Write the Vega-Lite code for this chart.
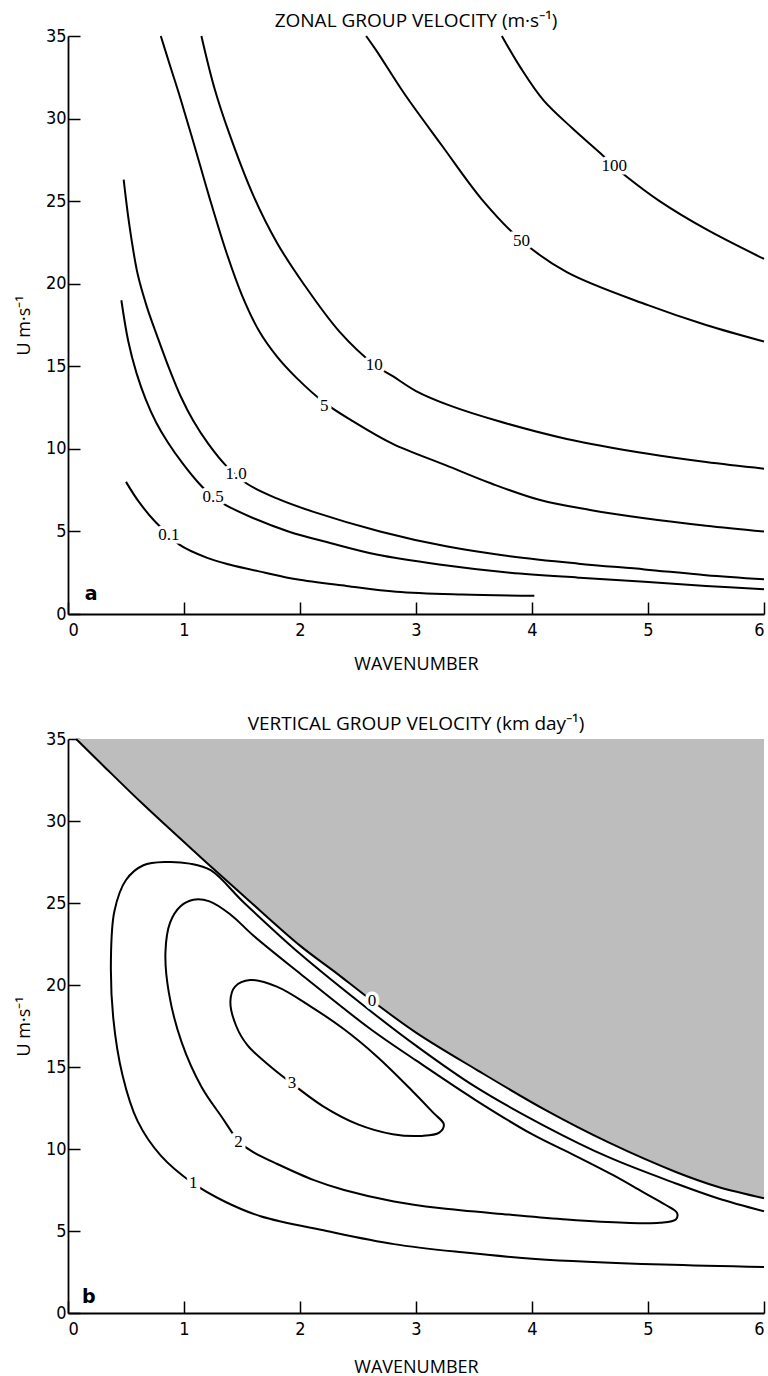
{
  "$schema": "https://vega.github.io/schema/vega-lite/v6.json",
  "background": "white",
  "padding": {"left": 15, "top": 12, "right": 0, "bottom": 0},
  "spacing": 42,
  "config": {
    "view": {"stroke": null},
    "axis": {
      "grid": false,
      "domainColor": "black",
      "domainWidth": 1.8,
      "tickColor": "black",
      "tickWidth": 1.5,
      "tickSize": -12,
      "labelFont": "Liberation Sans Narrow, DejaVu Sans Condensed, sans-serif",
      "labelFontSize": 18,
      "labelColor": "black",
      "titleFont": "Open Sans",
      "titleFontSize": 18,
      "titleFontWeight": "normal",
      "titleColor": "black"
    },
    "title": {"font": "Open Sans", "fontSize": 19, "fontWeight": "normal", "color": "black", "anchor": "middle", "offset": -4}
  },
  "datasets": {
    "zonal": [
      {"c": "0.1", "i": 1, "k": 0.5, "u": 8.0}, {"c": "0.1", "i": 2, "k": 0.61, "u": 6.8}, {"c": "0.1", "i": 3, "k": 0.75, "u": 5.6}, {"c": "0.1", "i": 4, "k": 0.87, "u": 4.8}, {"c": "0.1", "i": 5, "k": 0.96, "u": 4.2}, {"c": "0.1", "i": 6, "k": 1.2, "u": 3.4}, {"c": "0.1", "i": 7, "k": 1.39, "u": 3.0}, {"c": "0.1", "i": 8, "k": 1.7, "u": 2.5}, {"c": "0.1", "i": 9, "k": 1.97, "u": 2.1}, {"c": "0.1", "i": 10, "k": 2.4, "u": 1.7}, {"c": "0.1", "i": 11, "k": 2.83, "u": 1.35}, {"c": "0.1", "i": 12, "k": 3.4, "u": 1.18}, {"c": "0.1", "i": 13, "k": 4.02, "u": 1.1},
      {"c": "0.5", "i": 1, "k": 0.46, "u": 19.0}, {"c": "0.5", "i": 2, "k": 0.52, "u": 16.5}, {"c": "0.5", "i": 3, "k": 0.59, "u": 14.6}, {"c": "0.5", "i": 4, "k": 0.67, "u": 13.0}, {"c": "0.5", "i": 5, "k": 0.76, "u": 11.6}, {"c": "0.5", "i": 6, "k": 0.86, "u": 10.4}, {"c": "0.5", "i": 7, "k": 0.99, "u": 9.1}, {"c": "0.5", "i": 8, "k": 1.13, "u": 7.9}, {"c": "0.5", "i": 9, "k": 1.25, "u": 7.1}, {"c": "0.5", "i": 10, "k": 1.36, "u": 6.6}, {"c": "0.5", "i": 11, "k": 1.6, "u": 5.8}, {"c": "0.5", "i": 12, "k": 1.9, "u": 5.0}, {"c": "0.5", "i": 13, "k": 2.26, "u": 4.3}, {"c": "0.5", "i": 14, "k": 2.66, "u": 3.6}, {"c": "0.5", "i": 15, "k": 3.2, "u": 3.0}, {"c": "0.5", "i": 16, "k": 3.81, "u": 2.5}, {"c": "0.5", "i": 17, "k": 4.4, "u": 2.2}, {"c": "0.5", "i": 18, "k": 4.97, "u": 1.95}, {"c": "0.5", "i": 19, "k": 5.5, "u": 1.7}, {"c": "0.5", "i": 20, "k": 6.0, "u": 1.5},
      {"c": "1.0", "i": 1, "k": 0.48, "u": 26.3}, {"c": "1.0", "i": 2, "k": 0.53, "u": 23.5}, {"c": "1.0", "i": 3, "k": 0.6, "u": 20.6}, {"c": "1.0", "i": 4, "k": 0.68, "u": 18.6}, {"c": "1.0", "i": 5, "k": 0.77, "u": 16.8}, {"c": "1.0", "i": 6, "k": 0.87, "u": 14.9}, {"c": "1.0", "i": 7, "k": 0.97, "u": 13.2}, {"c": "1.0", "i": 8, "k": 1.08, "u": 11.7}, {"c": "1.0", "i": 9, "k": 1.21, "u": 10.3}, {"c": "1.0", "i": 10, "k": 1.36, "u": 9.0}, {"c": "1.0", "i": 11, "k": 1.54, "u": 7.9}, {"c": "1.0", "i": 12, "k": 1.8, "u": 7.0}, {"c": "1.0", "i": 13, "k": 2.11, "u": 6.2}, {"c": "1.0", "i": 14, "k": 2.69, "u": 5.0}, {"c": "1.0", "i": 15, "k": 3.26, "u": 4.1}, {"c": "1.0", "i": 16, "k": 3.81, "u": 3.5}, {"c": "1.0", "i": 17, "k": 4.4, "u": 3.05}, {"c": "1.0", "i": 18, "k": 4.97, "u": 2.7}, {"c": "1.0", "i": 19, "k": 5.5, "u": 2.35}, {"c": "1.0", "i": 20, "k": 6.0, "u": 2.1},
      {"c": "5", "i": 1, "k": 0.8, "u": 35}, {"c": "5", "i": 2, "k": 0.88, "u": 33.2}, {"c": "5", "i": 3, "k": 0.97, "u": 31.2}, {"c": "5", "i": 4, "k": 1.08, "u": 28.6}, {"c": "5", "i": 5, "k": 1.22, "u": 25.2}, {"c": "5", "i": 6, "k": 1.37, "u": 21.8}, {"c": "5", "i": 7, "k": 1.5, "u": 19.3}, {"c": "5", "i": 8, "k": 1.65, "u": 17.1}, {"c": "5", "i": 9, "k": 1.8, "u": 15.6}, {"c": "5", "i": 10, "k": 1.97, "u": 14.3}, {"c": "5", "i": 11, "k": 2.21, "u": 12.8}, {"c": "5", "i": 12, "k": 2.45, "u": 11.7}, {"c": "5", "i": 13, "k": 2.8, "u": 10.3}, {"c": "5", "i": 14, "k": 3.26, "u": 9.0}, {"c": "5", "i": 15, "k": 3.65, "u": 7.9}, {"c": "5", "i": 16, "k": 4.07, "u": 6.9}, {"c": "5", "i": 17, "k": 4.5, "u": 6.3}, {"c": "5", "i": 18, "k": 4.97, "u": 5.8}, {"c": "5", "i": 19, "k": 5.5, "u": 5.35}, {"c": "5", "i": 20, "k": 6.0, "u": 5.0},
      {"c": "10", "i": 1, "k": 1.15, "u": 35}, {"c": "10", "i": 2, "k": 1.26, "u": 31.9}, {"c": "10", "i": 3, "k": 1.39, "u": 29.1}, {"c": "10", "i": 4, "k": 1.6, "u": 25.3}, {"c": "10", "i": 5, "k": 1.8, "u": 22.5}, {"c": "10", "i": 6, "k": 2.03, "u": 20.0}, {"c": "10", "i": 7, "k": 2.34, "u": 17.1}, {"c": "10", "i": 8, "k": 2.64, "u": 15.1}, {"c": "10", "i": 9, "k": 2.8, "u": 14.4}, {"c": "10", "i": 10, "k": 3.0, "u": 13.5}, {"c": "10", "i": 11, "k": 3.3, "u": 12.6}, {"c": "10", "i": 12, "k": 3.7, "u": 11.7}, {"c": "10", "i": 13, "k": 4.3, "u": 10.6}, {"c": "10", "i": 14, "k": 5.0, "u": 9.7}, {"c": "10", "i": 15, "k": 5.5, "u": 9.2}, {"c": "10", "i": 16, "k": 6.0, "u": 8.8},
      {"c": "50", "i": 1, "k": 2.57, "u": 35}, {"c": "50", "i": 2, "k": 2.66, "u": 34.1}, {"c": "50", "i": 3, "k": 2.9, "u": 31.5}, {"c": "50", "i": 4, "k": 3.22, "u": 28.4}, {"c": "50", "i": 5, "k": 3.58, "u": 25.0}, {"c": "50", "i": 6, "k": 3.91, "u": 22.6}, {"c": "50", "i": 7, "k": 4.3, "u": 20.7}, {"c": "50", "i": 8, "k": 5.0, "u": 18.7}, {"c": "50", "i": 9, "k": 5.5, "u": 17.5}, {"c": "50", "i": 10, "k": 6.0, "u": 16.5},
      {"c": "100", "i": 1, "k": 3.74, "u": 35}, {"c": "100", "i": 2, "k": 3.9, "u": 33.1}, {"c": "100", "i": 3, "k": 4.1, "u": 31.1}, {"c": "100", "i": 4, "k": 4.35, "u": 29.4}, {"c": "100", "i": 5, "k": 4.59, "u": 27.9}, {"c": "100", "i": 6, "k": 4.71, "u": 27.1}, {"c": "100", "i": 7, "k": 4.83, "u": 26.4}, {"c": "100", "i": 8, "k": 5.1, "u": 25.0}, {"c": "100", "i": 9, "k": 5.5, "u": 23.3}, {"c": "100", "i": 10, "k": 6.0, "u": 21.5}
    ],
    "zonalLabels": [
      {"k": 0.87, "u": 4.8, "t": "0.1"}, {"k": 1.25, "u": 7.1, "t": "0.5"}, {"k": 1.45, "u": 8.5, "t": "1.0"}, {"k": 2.21, "u": 12.6, "t": "5"}, {"k": 2.64, "u": 15.1, "t": "10"}, {"k": 3.91, "u": 22.6, "t": "50"}, {"k": 4.71, "u": 27.1, "t": "100"}
    ],
    "panelA": [{"k": 0.2, "u": 1.2, "t": "a"}],
    "panelB": [{"k": 0.18, "u": 1.0, "t": "b"}],
    "shade": [
      {"k": 0.07, "u": 35}, {"k": 0.3, "u": 33.4}, {"k": 0.65, "u": 31.0}, {"k": 1.08, "u": 28.2}, {"k": 1.52, "u": 25.4}, {"k": 2.0, "u": 22.4}, {"k": 2.3, "u": 20.8}, {"k": 2.61, "u": 19.1}, {"k": 3.0, "u": 17.1}, {"k": 3.53, "u": 14.8}, {"k": 4.11, "u": 12.4}, {"k": 4.66, "u": 10.4}, {"k": 5.24, "u": 8.6}, {"k": 5.6, "u": 7.7}, {"k": 6.0, "u": 7.0}
    ],
    "vertical": [
      {"c": "0", "i": 1, "k": 0.07, "u": 35}, {"c": "0", "i": 2, "k": 0.3, "u": 33.4}, {"c": "0", "i": 3, "k": 0.65, "u": 31.0}, {"c": "0", "i": 4, "k": 1.08, "u": 28.2}, {"c": "0", "i": 5, "k": 1.52, "u": 25.4}, {"c": "0", "i": 6, "k": 2.0, "u": 22.4}, {"c": "0", "i": 7, "k": 2.3, "u": 20.8}, {"c": "0", "i": 8, "k": 2.61, "u": 19.1}, {"c": "0", "i": 9, "k": 3.0, "u": 17.1}, {"c": "0", "i": 10, "k": 3.53, "u": 14.8}, {"c": "0", "i": 11, "k": 4.11, "u": 12.4}, {"c": "0", "i": 12, "k": 4.66, "u": 10.4}, {"c": "0", "i": 13, "k": 5.24, "u": 8.6}, {"c": "0", "i": 14, "k": 5.6, "u": 7.7}, {"c": "0", "i": 15, "k": 6.0, "u": 7.0},
      {"c": "1", "i": 1, "k": 6.0, "u": 2.8}, {"c": "1", "i": 2, "k": 5.13, "u": 2.95}, {"c": "1", "i": 3, "k": 4.03, "u": 3.3}, {"c": "1", "i": 4, "k": 3.4, "u": 3.7}, {"c": "1", "i": 5, "k": 2.81, "u": 4.2}, {"c": "1", "i": 6, "k": 2.23, "u": 5.0}, {"c": "1", "i": 7, "k": 1.66, "u": 5.9}, {"c": "1", "i": 8, "k": 1.35, "u": 6.8}, {"c": "1", "i": 9, "k": 1.08, "u": 7.9}, {"c": "1", "i": 10, "k": 0.8, "u": 9.6}, {"c": "1", "i": 11, "k": 0.6, "u": 11.7}, {"c": "1", "i": 12, "k": 0.47, "u": 14.5}, {"c": "1", "i": 13, "k": 0.39, "u": 18.0}, {"c": "1", "i": 14, "k": 0.37, "u": 21.5}, {"c": "1", "i": 15, "k": 0.4, "u": 24.5}, {"c": "1", "i": 16, "k": 0.5, "u": 26.4}, {"c": "1", "i": 17, "k": 0.65, "u": 27.3}, {"c": "1", "i": 18, "k": 0.85, "u": 27.5}, {"c": "1", "i": 19, "k": 1.05, "u": 27.4}, {"c": "1", "i": 20, "k": 1.23, "u": 27.0}, {"c": "1", "i": 21, "k": 1.52, "u": 25.0}, {"c": "1", "i": 22, "k": 2.0, "u": 21.9}, {"c": "1", "i": 23, "k": 2.61, "u": 18.4}, {"c": "1", "i": 24, "k": 3.0, "u": 16.3}, {"c": "1", "i": 25, "k": 3.51, "u": 13.8}, {"c": "1", "i": 26, "k": 4.11, "u": 11.4}, {"c": "1", "i": 27, "k": 4.66, "u": 9.5}, {"c": "1", "i": 28, "k": 5.24, "u": 7.9}, {"c": "1", "i": 29, "k": 5.6, "u": 7.0}, {"c": "1", "i": 30, "k": 6.0, "u": 6.2},
      {"c": "2", "i": 1, "k": 1.47, "u": 10.4}, {"c": "2", "i": 2, "k": 1.34, "u": 11.8}, {"c": "2", "i": 3, "k": 1.15, "u": 13.8}, {"c": "2", "i": 4, "k": 0.98, "u": 16.5}, {"c": "2", "i": 5, "k": 0.87, "u": 19.5}, {"c": "2", "i": 6, "k": 0.84, "u": 22.0}, {"c": "2", "i": 7, "k": 0.88, "u": 23.8}, {"c": "2", "i": 8, "k": 0.97, "u": 24.8}, {"c": "2", "i": 9, "k": 1.08, "u": 25.2}, {"c": "2", "i": 10, "k": 1.22, "u": 25.1}, {"c": "2", "i": 11, "k": 1.4, "u": 24.3}, {"c": "2", "i": 12, "k": 1.6, "u": 23.0}, {"c": "2", "i": 13, "k": 2.0, "u": 20.7}, {"c": "2", "i": 14, "k": 2.61, "u": 17.3}, {"c": "2", "i": 15, "k": 3.0, "u": 15.4}, {"c": "2", "i": 16, "k": 3.51, "u": 13.0}, {"c": "2", "i": 17, "k": 4.0, "u": 10.9}, {"c": "2", "i": 18, "k": 4.37, "u": 9.6}, {"c": "2", "i": 19, "k": 4.7, "u": 8.4}, {"c": "2", "i": 20, "k": 4.95, "u": 7.4}, {"c": "2", "i": 21, "k": 5.15, "u": 6.6}, {"c": "2", "i": 22, "k": 5.25, "u": 6.1}, {"c": "2", "i": 23, "k": 5.24, "u": 5.7}, {"c": "2", "i": 24, "k": 5.1, "u": 5.5}, {"c": "2", "i": 25, "k": 4.8, "u": 5.5}, {"c": "2", "i": 26, "k": 4.3, "u": 5.7}, {"c": "2", "i": 27, "k": 3.8, "u": 6.0}, {"c": "2", "i": 28, "k": 3.2, "u": 6.4}, {"c": "2", "i": 29, "k": 2.81, "u": 6.8}, {"c": "2", "i": 30, "k": 2.38, "u": 7.5}, {"c": "2", "i": 31, "k": 2.12, "u": 8.1}, {"c": "2", "i": 32, "k": 1.8, "u": 9.1}, {"c": "2", "i": 33, "k": 1.6, "u": 9.8}, {"c": "2", "i": 34, "k": 1.47, "u": 10.4},
      {"c": "3", "i": 1, "k": 1.93, "u": 14.0}, {"c": "3", "i": 2, "k": 2.2, "u": 12.6}, {"c": "3", "i": 3, "k": 2.5, "u": 11.5}, {"c": "3", "i": 4, "k": 2.8, "u": 10.9}, {"c": "3", "i": 5, "k": 3.05, "u": 10.8}, {"c": "3", "i": 6, "k": 3.2, "u": 11.0}, {"c": "3", "i": 7, "k": 3.24, "u": 11.5}, {"c": "3", "i": 8, "k": 3.15, "u": 12.2}, {"c": "3", "i": 9, "k": 2.96, "u": 13.6}, {"c": "3", "i": 10, "k": 2.67, "u": 15.6}, {"c": "3", "i": 11, "k": 2.38, "u": 17.3}, {"c": "3", "i": 12, "k": 2.09, "u": 18.7}, {"c": "3", "i": 13, "k": 1.8, "u": 19.9}, {"c": "3", "i": 14, "k": 1.57, "u": 20.3}, {"c": "3", "i": 15, "k": 1.44, "u": 19.9}, {"c": "3", "i": 16, "k": 1.4, "u": 19.0}, {"c": "3", "i": 17, "k": 1.45, "u": 17.5}, {"c": "3", "i": 18, "k": 1.55, "u": 16.3}, {"c": "3", "i": 19, "k": 1.75, "u": 15.0}, {"c": "3", "i": 20, "k": 1.93, "u": 14.0}
    ],
    "verticalLabels": [
      {"k": 2.62, "u": 19.0, "t": "0"}, {"k": 1.08, "u": 7.9, "t": "1"}, {"k": 1.47, "u": 10.4, "t": "2"}, {"k": 1.93, "u": 14.0, "t": "3"}
    ]
  },
  "vconcat": [
    {
      "width": 696,
      "height": 578,
      "title": {"text": "ZONAL GROUP VELOCITY  (m·s⁻¹)"},
      "encoding": {
        "x": {"field": "k", "type": "quantitative", "scale": {"domain": [0, 6], "nice": false}, "axis": {"values": [0, 1, 2, 3, 4, 5, 6], "title": "WAVENUMBER", "titlePadding": 16, "labelPadding": 19}},
        "y": {"field": "u", "type": "quantitative", "scale": {"domain": [0, 35], "nice": false}, "axis": {"values": [0, 5, 10, 15, 20, 25, 30, 35], "title": "U  m·s⁻¹", "titlePadding": 12, "labelPadding": 14}}
      },
      "layer": [
        {"data": {"name": "zonal"}, "mark": {"type": "line", "color": "black", "strokeWidth": 2, "interpolate": "catmull-rom"}, "encoding": {"detail": {"field": "c"}, "order": {"field": "i", "type": "quantitative"}}},
        {"data": {"name": "zonalLabels"}, "mark": {"type": "text", "font": "Liberation Serif", "fontSize": 17, "stroke": "white", "strokeWidth": 7, "fill": "white"}, "encoding": {"text": {"field": "t"}}},
        {"data": {"name": "zonalLabels"}, "mark": {"type": "text", "font": "Liberation Serif", "fontSize": 17, "fill": "black"}, "encoding": {"text": {"field": "t"}}},
        {"data": {"name": "panelA"}, "mark": {"type": "text", "font": "DejaVu Sans", "fontSize": 19, "fontWeight": "bold", "fill": "black"}, "encoding": {"text": {"field": "t"}}}
      ]
    },
    {
      "width": 696,
      "height": 574,
      "title": {"text": "VERTICAL GROUP VELOCITY  (km day⁻¹)"},
      "encoding": {
        "x": {"field": "k", "type": "quantitative", "scale": {"domain": [0, 6], "nice": false}, "axis": {"values": [0, 1, 2, 3, 4, 5, 6], "title": "WAVENUMBER", "titlePadding": 20, "labelPadding": 19}},
        "y": {"field": "u", "type": "quantitative", "scale": {"domain": [0, 35], "nice": false}, "axis": {"values": [0, 5, 10, 15, 20, 25, 30, 35], "title": "U  m·s⁻¹", "titlePadding": 12, "labelPadding": 14}}
      },
      "layer": [
        {"data": {"name": "shade"}, "mark": {"type": "area", "color": "#bdbdbd", "interpolate": "catmull-rom"}, "encoding": {"y2": {"datum": 35}}},
        {"data": {"name": "vertical"}, "mark": {"type": "line", "color": "black", "strokeWidth": 2, "interpolate": "catmull-rom"}, "encoding": {"detail": {"field": "c"}, "order": {"field": "i", "type": "quantitative"}}},
        {"data": {"name": "verticalLabels"}, "mark": {"type": "text", "font": "Liberation Serif", "fontSize": 17, "stroke": "white", "strokeWidth": 7, "fill": "white"}, "encoding": {"text": {"field": "t"}}},
        {"data": {"name": "verticalLabels"}, "mark": {"type": "text", "font": "Liberation Serif", "fontSize": 17, "fill": "black"}, "encoding": {"text": {"field": "t"}}},
        {"data": {"name": "panelB"}, "mark": {"type": "text", "font": "DejaVu Sans", "fontSize": 19, "fontWeight": "bold", "fill": "black"}, "encoding": {"text": {"field": "t"}}}
      ]
    }
  ]
}
